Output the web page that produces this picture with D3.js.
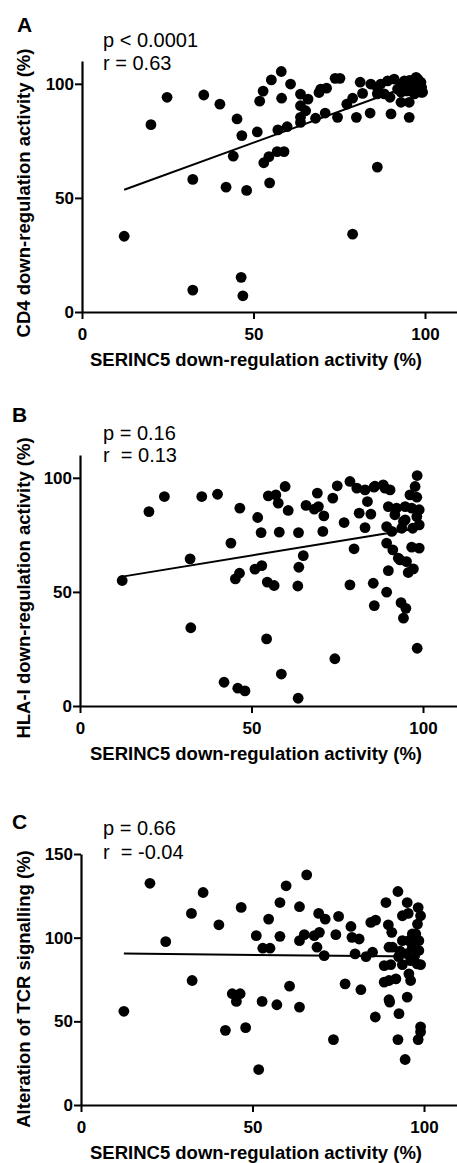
<!DOCTYPE html>
<html>
<head>
<meta charset="utf-8">
<script src="https://cdn.jsdelivr.net/npm/d3@7"></script>
<style>
  html, body { margin: 0; padding: 0; background: #fff; }
  svg { display: block; }
  text { font-family: "Liberation Sans", Arial, sans-serif; fill: #000; }
</style>
</head>
<body>
<svg id="chart" width="457" height="1163"></svg>
<script>
// ---------- DATA ----------
const xTicks = [0, 50, 100];
const yTicksAB = [0, 50, 100];
const yTicksC = [0, 50, 100, 150];

const xTitle = "SERINC5 down-regulation activity (%)";
const yTitleA = "CD4 down-regulation activity (%)";
const yTitleB = "HLA-I down-regulation activity (%)";
const yTitleC = "Alteration of TCR signalling (%)";

const statsA = ["p < 0.0001", "r = 0.63"];
const statsB = ["p = 0.16", "r  = 0.13"];
const statsC = ["p = 0.66", "r  = -0.04"];

// Panel A: [SERINC5 %, CD4 %]
const pointsA = [
  [12.3,33.2],[20.1,82.1],[24.8,94.1],[32.3,58.1],[32.3,9.6],[35.5,95.1],[40.2,91.1],[42.0,54.7],
  [44.1,68.3],[45.2,84.6],[46.4,15.2],[46.6,77.3],[46.9,7.1],[48.0,53.3],[51.1,78.9],[51.8,92.4],
  [52.8,96.8],[53.0,65.4],[54.5,68.1],[54.7,56.6],[55.2,101.7],[56.9,70.3],[57.1,79.8],[58.1,105.4],
  [58.2,93.7],[58.9,70.3],[59.8,81.2],[60.8,99.9],[63.7,95.5],[63.7,90.4],[63.7,85.3],[63.7,83.1],
  [65.2,88.2],[65.9,93.3],[68.1,84.9],[69.1,96.2],[69.6,97.7],[70.9,87.2],[71.3,98.1],[73.8,102.4],
  [75.2,102.4],[74.5,85.3],[77.2,91.1],[78.9,93.7],[78.9,34.1],[80.0,85.3],[81.1,100.7],[81.8,95.8],
  [84.0,87.2],[84.2,99.9],[86.1,63.5],[86.1,98.4],[86.1,95.6],[87.1,99.9],[88.1,95.6],[89.1,101.3],
  [89.8,94.1],[90.1,86.8],[91.0,102.1],[92.0,97.7],[93.0,99.9],[93.0,96.3],[93.0,91.9],[94.0,101.3],
  [94.4,96.9],[94.9,96.9],[95.4,91.9],[95.4,85.3],[96.4,99.1],[96.9,95.6],[97.4,102.8],[97.4,97.7],
  [97.9,102.1],[98.8,100.7],[98.8,96.3],[99.3,96.3],[99.0,98.5],[97.0,100.0],[95.5,101.5],[98.0,99.0]
];
// Panel B: [SERINC5 %, HLA-I %]
const pointsB = [
  [12.3,55.0],[20.1,85.2],[24.6,91.8],[32.1,64.5],[32.3,34.3],[35.5,91.8],[40.1,92.8],[46.6,86.7],
  [44.0,71.4],[45.3,55.7],[46.5,58.2],[42.0,10.4],[46.0,7.8],[48.1,6.6],[51.8,82.6],[52.8,76.0],
  [51.0,60.0],[53.0,61.5],[54.4,29.4],[54.9,92.1],[57.1,92.5],[59.8,96.2],[57.8,88.9],[60.7,85.7],
  [58.1,76.2],[54.6,54.3],[56.6,52.8],[58.7,14.0],[63.7,76.0],[65.1,65.9],[63.8,60.8],[63.5,52.6],
  [63.6,3.4],[65.9,87.9],[68.3,86.3],[69.2,93.3],[69.5,87.4],[71.1,83.3],[70.8,76.5],[73.7,91.1],
  [75.0,96.5],[74.3,20.7],[77.0,80.4],[78.7,98.4],[79.9,68.9],[78.7,53.1],[80.7,95.5],[81.4,84.5],
  [83.1,94.7],[83.1,78.2],[83.8,89.6],[84.8,84.1],[85.7,95.9],[85.5,53.8],[85.8,44.0],[88.9,95.5],
  [90.4,94.7],[89.9,87.4],[89.4,78.6],[90.9,76.5],[89.4,71.4],[91.2,68.4],[89.9,59.3],[89.4,49.9],
  [92.3,86.7],[91.8,83.8],[93.8,77.9],[93.3,64.0],[95.2,63.3],[95.7,58.5],[97.2,60.1],[93.6,45.3],
  [95.0,42.8],[94.3,38.5],[98.3,101.0],[97.7,96.2],[96.2,92.5],[98.2,91.5],[94.8,87.4],[96.7,86.7],
  [98.9,86.0],[98.2,83.0],[98.9,79.4],[97.0,77.9],[94.8,81.6],[96.7,69.6],[98.9,69.2],[98.3,25.3],
  [92.8,64.8],[94.3,80.9],[88.4,96.9],[86.0,96.3]
];
// Panel C: [SERINC5 %, TCR signalling %]
const pointsC = [
  [12.5,56.0],[20.1,132.5],[24.7,97.6],[32.4,74.4],[32.2,114.5],[35.6,127.0],[40.2,107.7],[46.7,118.1],
  [44.1,66.5],[46.4,66.5],[45.3,61.9],[42.1,44.6],[48.0,46.2],[51.1,101.2],[54.7,111.1],[53.0,93.7],
  [55.1,93.7],[58.0,121.0],[59.8,131.0],[58.0,100.8],[60.8,71.0],[52.8,61.9],[57.1,59.9],[51.8,21.2],
  [63.7,118.5],[63.7,98.2],[65.1,101.8],[65.8,137.5],[63.7,58.5],[68.0,101.2],[69.5,103.2],[69.3,114.5],
  [71.2,111.1],[68.8,94.3],[70.9,89.3],[74.3,101.8],[75.1,112.7],[73.6,39.1],[77.0,72.4],[78.7,106.7],
  [79.0,100.2],[81.1,99.2],[79.9,90.3],[81.6,68.9],[83.1,88.7],[84.5,109.1],[85.9,110.5],[85.0,91.3],
  [85.8,52.6],[88.9,121.0],[89.6,107.7],[90.6,103.2],[89.8,94.3],[90.8,94.3],[88.4,83.3],[90.3,83.9],
  [88.4,73.4],[89.8,74.4],[91.8,75.4],[89.8,62.9],[90.0,61.5],[92.7,54.6],[92.4,39.1],[94.5,27.2],
  [92.4,127.6],[95.1,121.0],[93.7,113.1],[95.4,114.5],[93.7,98.2],[93.7,83.9],[95.1,64.5],[96.1,74.4],
  [95.6,78.4],[98.3,118.0],[99.0,113.1],[98.1,108.1],[97.6,102.2],[98.5,98.2],[96.6,94.3],[98.5,92.3],
  [97.1,88.3],[99.0,83.9],[95.6,98.2],[96.6,102.2],[99.0,46.7],[99.0,43.7],[98.3,39.1],[96.1,86.3],
  [98.0,84.3],[92.6,88.7],[95.0,90.5],[93.0,92.0]
];

// Regression line end points [x, y]
const fitA = [[12.3,53.6],[99.0,101.0]];
const fitB = [[12.3,56.7],[99.0,78.0]];
const fitC = [[12.5,90.5],[98.8,88.7]];

// ---------- LAYOUT ----------
const svg = d3.select("#chart");
const FONT_TICK = 17, FONT_TITLE = 18.5, FONT_STAT = 20, FONT_LETTER = 21;

const panels = [
  { letter: "A", letterX: 17, letterY: 32, statX: 103, statY: [47, 70],
    x0: 82, y0: 312, yTop: 61, yMax: 110, yTicks: yTicksAB, pts: pointsA, fit: fitA,
    stats: statsA, yTitle: yTitleA, yTitleY: 193 },
  { letter: "B", letterX: 12, letterY: 422, statX: 103, statY: [440, 462],
    x0: 80, y0: 706, yTop: 455, yMax: 110, yTicks: yTicksAB, pts: pointsB, fit: fitB,
    stats: statsB, yTitle: yTitleB, yTitleY: 588 },
  { letter: "C", letterX: 12, letterY: 829, statX: 103, statY: [835, 859],
    x0: 81, y0: 1105, yTop: 854, yMax: 150, yTicks: yTicksC, pts: pointsC, fit: fitC,
    stats: statsC, yTitle: yTitleC, yTitleY: 989 }
];

panels.forEach(p => {
  const x = d3.scaleLinear().domain([0, 110]).range([p.x0, p.x0 + 110 * 3.43]);
  const y = d3.scaleLinear().domain([0, p.yMax]).range([p.y0, p.yTop]);
  const g = svg.append("g");

  // axes
  const xAxis = d3.axisBottom(x).tickValues(xTicks).tickSize(7).tickSizeOuter(0).tickPadding(9);
  const yAxis = d3.axisLeft(y).tickValues(p.yTicks).tickSize(7).tickSizeOuter(0).tickPadding(1);

  const gx = g.append("g").attr("transform", `translate(0,${p.y0})`).call(xAxis);
  const gy = g.append("g").attr("transform", `translate(${p.x0},0)`).call(yAxis);
  [gx, gy].forEach(a => {
    a.selectAll("path.domain").attr("stroke", "#000").attr("stroke-width", 2.2);
    a.selectAll(".tick line").attr("stroke", "#000").attr("stroke-width", 2);
    a.selectAll(".tick text").attr("font-size", FONT_TICK).attr("font-weight", "bold")
      .attr("font-family", "'Liberation Sans', Arial, sans-serif").attr("fill", "#000");
  });

  // regression line
  g.append("path")
    .datum(p.fit)
    .attr("d", d3.line().x(d => x(d[0])).y(d => y(d[1])))
    .attr("fill", "none").attr("stroke", "#000").attr("stroke-width", 2);

  // points
  g.append("g").selectAll("circle").data(p.pts).join("circle")
    .attr("cx", d => x(d[0])).attr("cy", d => y(d[1])).attr("r", 5.4).attr("fill", "#000");

  // titles
  g.append("text").attr("x", 256).attr("y", p.y0 + 54).attr("text-anchor", "middle")
    .attr("font-size", FONT_TITLE).attr("font-weight", "bold").text(xTitle);
  g.append("text").attr("transform", `translate(30,${p.yTitleY}) rotate(-90)`)
    .attr("text-anchor", "middle").attr("font-size", FONT_TITLE).attr("font-weight", "bold")
    .text(p.yTitle);

  // panel letter
  g.append("text").attr("x", p.letterX).attr("y", p.letterY)
    .attr("font-size", FONT_LETTER).attr("font-weight", "bold").text(p.letter);

  // statistics
  p.stats.forEach((s, i) => {
    g.append("text").attr("x", p.statX).attr("y", p.statY[i])
      .attr("font-size", FONT_STAT).attr("xml:space", "preserve").style("white-space", "pre").text(s);
  });
});
</script>
</body>
</html>
